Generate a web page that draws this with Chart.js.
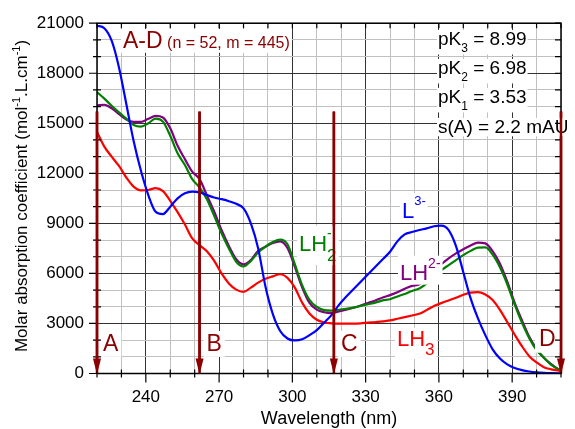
<!DOCTYPE html>
<html>
<head>
<meta charset="utf-8">
<script src="https://cdn.jsdelivr.net/npm/chart.js@4.4.1/dist/chart.umd.min.js"></script>
<style>
  html, body { margin: 0; padding: 0; background: #fff; }
  #wrap { width: 575px; height: 429px; }
</style>
</head>
<body>
<div id="wrap"><canvas id="ch" width="575" height="429"></canvas></div>
<script>
// ── Data (nm / mol-1.L.cm-1) ──────────────────────────────────────────────
const wavelengths = [
    220, 223, 226, 229, 232, 235, 238, 241, 244, 247,
    250, 253, 256, 259, 262, 265, 268, 271, 274, 277,
    280, 283, 286, 289, 292, 295, 298, 301, 304, 307,
    310, 313, 316, 319, 322, 325, 328, 331, 334, 337,
    340, 343, 346, 349, 352, 355, 358, 361, 364, 367,
    370, 373, 376, 379, 382, 385, 388, 391, 394, 397,
    400, 403, 406, 409, 410,
];
const specL = [
    20850, 20700, 19950, 18350, 16160, 13940, 12150, 10700, 9700, 9560,
    10000, 10500, 10800, 10900, 10850, 10700, 10550, 10450, 10330, 10170,
    9900, 9000, 7500, 5200, 3560, 2550, 2100, 1980, 2050, 2300,
    2600, 3050, 3500, 4100, 4600, 5050, 5500, 5950, 6400, 6850,
    7300, 7920, 8340, 8480, 8600, 8700, 8830, 8870, 8600, 7640,
    6070, 4500, 3300, 2300, 1450, 900, 550, 330, 200, 120,
    70, 40, 20, 10, 10,
];
const specLH = [
    16070, 16110, 15900, 15550, 15230, 15080, 15080, 15270, 15440, 15350,
    14700, 13650, 12850, 12100, 11650, 10680, 9700, 8600, 7650, 6850,
    6550, 6800, 7350, 7600, 7820, 7920, 7520, 6400, 5170, 4230,
    3830, 3670, 3620, 3720, 3820, 3940, 4080, 4230, 4380, 4560,
    4700, 4870, 5080, 5250, 5350, 5700, 6150, 6550, 6900, 7200,
    7450, 7680, 7850, 7800, 7330, 6580, 5500, 4250, 3200, 2200,
    1480, 950, 560, 250, 210,
];
const specLH2 = [
    16870, 16480, 16050, 15650, 15280, 14900, 14800, 15000, 15280, 15100,
    14250, 13200, 12500, 11650, 11150, 10450, 9450, 8400, 7500, 6700,
    6420, 6750, 7250, 7600, 7880, 8030, 7750, 6550, 5300, 4420,
    3990, 3800, 3770, 3820, 3880, 3950, 4050, 4150, 4250, 4380,
    4450, 4620, 4770, 4950, 5100, 5400, 5850, 6200, 6500, 6800,
    7100, 7350, 7550, 7560, 7130, 6370, 5350, 4140, 3050, 2120,
    1400, 940, 520, 260, 200,
];
const specLH3 = [
    14480, 13600, 13000, 12440, 11750, 11200, 10980, 11000, 11110, 10930,
    10350, 9670, 8930, 8100, 7700, 7330, 6750, 6000, 5400, 5030,
    4890, 5150, 5450, 5680, 5820, 5950, 5730, 5150, 4250, 3600,
    3220, 3060, 3010, 2990, 2990, 2990, 3010, 3050, 3080, 3130,
    3180, 3280, 3380, 3480, 3580, 3800, 4050, 4220, 4380, 4540,
    4720, 4850, 4880, 4740, 4410, 3820, 3080, 2340, 1640, 1040,
    660, 380, 250, 170, 150,
];

// Vertical markers A-D
const arrowWl     = [220, 262, 317, 410];
const arrowTop    = 15700;
const arrowLetter = ['A', 'B', 'C', 'D'];

// Labelled ticks
const xTicks = [240, 270, 300, 330, 360, 390];
const yTicks = [0, 3000, 6000, 9000, 12000, 15000, 18000, 21000];

const FONT     = '"Liberation Sans", Arial, sans-serif';
const DARK_RED = '#8b0000';

// ── Rich text helper (sub/superscripts, optional white box) ───────────────
function richWidth(ctx, segs) {
    let cur = 0, hold = 0;
    segs.forEach(s => {
        ctx.font = `${s.size}px ${FONT}`;
        const w = ctx.measureText(s.t).width;
        if (s.keep) hold = Math.max(hold, w);
        else { cur += Math.max(w, hold); hold = 0; }
    });
    return cur;
}

function drawRich(ctx, x, y, segs, color, pad) {
    const total = richWidth(ctx, segs);
    if (pad != null) {
        let top = y, bot = y;
        segs.forEach(s => {
            const dy = s.dy || 0;
            top = Math.min(top, y + dy - s.size * 0.74);
            bot = Math.max(bot, y + dy + s.size * 0.12);
        });
        ctx.fillStyle = '#fff';
        ctx.fillRect(x - pad, top - pad, total + 2 * pad, bot - top + 2 * pad);
    }
    ctx.fillStyle = color;
    ctx.textAlign = 'left';
    ctx.textBaseline = 'alphabetic';
    let cur = x, hold = 0;
    segs.forEach(s => {
        ctx.font = `${s.size}px ${FONT}`;
        ctx.fillText(s.t, cur, y + (s.dy || 0));
        const w = ctx.measureText(s.t).width;
        if (s.keep) hold = Math.max(hold, w);
        else { cur += Math.max(w, hold); hold = 0; }
    });
}

// ── Annotations: texts, frame, tick marks, arrows ─────────────────────────
const annotations = {
    id: 'annotations',
    afterDatasetsDraw(chart) {
        const { ctx, chartArea: a, scales: { x } } = chart;
        ctx.save();

        // A B C D (white boxes over the curves)
        const letterDx  = [6, 7, 7, -22];
        const letterY   = [351, 351, 351, 346];
        const letterPad = [3, 3, 3, 4];
        arrowWl.forEach((w, i) => {
            drawRich(ctx, x.getPixelForValue(w) + letterDx[i], letterY[i],
                [{ t: arrowLetter[i], size: 23 }], DARK_RED, letterPad[i]);
        });

        // title inside plot
        drawRich(ctx, 123, 48, [
            { t: 'A-D', size: 23 },
            { t: ' (n = 52, m = 445)', size: 16 },
        ], DARK_RED, 2);

        // fitted constants
        const pk = [
            [45,  [{ t: 'pK', size: 19 }, { t: '3', size: 12, dy: 7 }, { t: ' = 8.99', size: 19 }]],
            [74,  [{ t: 'pK', size: 19 }, { t: '2', size: 12, dy: 7 }, { t: ' = 6.98', size: 19 }]],
            [103, [{ t: 'pK', size: 19 }, { t: '1', size: 12, dy: 7 }, { t: ' = 3.53', size: 19 }]],
            [133, [{ t: 's(A) = 2.2 mAU', size: 19 }]],
        ];
        pk.forEach(([yy, segs]) => drawRich(ctx, 438, yy, segs, '#000', 1));

        // species labels
        drawRich(ctx, 402, 218, [{ t: 'L', size: 22 }, { t: '3-', size: 13, dy: -13 }], '#0000ff', 2);
        drawRich(ctx, 299, 251, [{ t: 'LH', size: 22 }, { t: '2', size: 17, dy: 10, keep: true }, { t: '-', size: 14, dy: -13 }], '#008000', 2);
        drawRich(ctx, 400, 280, [{ t: 'LH', size: 22 }, { t: '2-', size: 14, dy: -12 }], '#800080', 2);
        drawRich(ctx, 397, 346, [{ t: 'LH', size: 22 }, { t: '3', size: 17, dy: 9 }], '#ff0000', 2);

        // axis titles
        ctx.fillStyle = '#000';
        ctx.font = `18px ${FONT}`;
        ctx.textAlign = 'center';
        ctx.fillText('Wavelength (nm)', (a.left + a.right) / 2, 424);

        const ySegs = [
            { t: 'Molar absorption coefficient (mol', size: 17 },
            { t: '-1', size: 11, dy: -7 },
            { t: '.L.cm', size: 17 },
            { t: '-1', size: 11, dy: -7 },
            { t: ')', size: 17 },
        ];
        const yw = richWidth(ctx, ySegs);
        ctx.translate(27, 196);
        ctx.rotate(-Math.PI / 2);
        drawRich(ctx, -yw / 2, 0, ySegs, '#000');
        ctx.restore();
    },
    afterDraw(chart) {
        const { ctx, chartArea: a, scales: { x, y } } = chart;
        ctx.save();
        ctx.strokeStyle = '#000';
        ctx.lineWidth = 1.5;
        ctx.strokeRect(a.left, a.top, a.right - a.left, a.bottom - a.top);
        ctx.lineWidth = 1.2;
        ctx.beginPath();
        x.ticks.forEach(t => {
            const px = x.getPixelForValue(t.value);
            const major = xTicks.includes(t.value);
            if (major) { ctx.moveTo(px, a.bottom); ctx.lineTo(px, a.bottom + 9); }
            else       { ctx.moveTo(px, a.bottom - 4); ctx.lineTo(px, a.bottom + 4); }
            ctx.moveTo(px, a.top); ctx.lineTo(px, a.top + 5);
        });
        y.ticks.forEach(t => {
            const py = y.getPixelForValue(t.value);
            const major = yTicks.includes(t.value);
            if (major) { ctx.moveTo(a.left - 8, py); ctx.lineTo(a.left, py); }
            else       { ctx.moveTo(a.left - 4, py); ctx.lineTo(a.left + 4, py); }
            ctx.moveTo(a.right, py); ctx.lineTo(a.right - 6, py);
        });
        ctx.stroke();

        // arrows sit on top of the frame (A and D lie on the axes)
        const tip = y.getPixelForValue(0);
        const topPx = y.getPixelForValue(arrowTop);
        ctx.strokeStyle = DARK_RED;
        ctx.fillStyle = DARK_RED;
        ctx.lineWidth = 2.5;
        arrowWl.forEach(w => {
            const px = x.getPixelForValue(w);
            ctx.beginPath();
            ctx.moveTo(px, topPx);
            ctx.lineTo(px, tip - 10);
            ctx.stroke();
            ctx.beginPath();
            ctx.moveTo(px - 4, tip - 15);
            ctx.lineTo(px + 4, tip - 15);
            ctx.lineTo(px, tip + 1);
            ctx.closePath();
            ctx.fill();
        });
        ctx.restore();
    },
};

// ── Chart ─────────────────────────────────────────────────────────────────
const series = (vals) => wavelengths.map((w, i) => ({ x: w, y: vals[i] }));
const curve = (vals, color) => ({
    data: series(vals), borderColor: color, borderWidth: 2.2,
    cubicInterpolationMode: 'monotone', pointRadius: 0,
});

const arrows = arrowWl.map(w => ({
    data: [{ x: w, y: arrowTop }, { x: w, y: 0 }],
    borderColor: DARK_RED, borderWidth: 2.5, pointRadius: 0, tension: 0, clip: false,
}));

Chart.defaults.font.family = FONT;
Chart.defaults.color = '#000';

new Chart(document.getElementById('ch').getContext('2d'), {
    type: 'line',
    data: {
        // first dataset is painted last (on top)
        datasets: [
            ...arrows,
            curve(specL,   '#0000ff'),
            curve(specLH3, '#ff0000'),
            curve(specLH2, '#008000'),
            curve(specLH,  '#800080'),
        ],
    },
    options: {
        responsive: false, animation: false, devicePixelRatio: 1,
        layout: { padding: { top: 20, right: 3, left: 0, bottom: 0 } },
        plugins: { legend: { display: false }, tooltip: { enabled: false } },
        scales: {
            x: {
                type: 'linear', min: 220, max: 410,
                afterFit: s => { s.height = 55.5; },
                ticks: {
                    stepSize: 10, autoSkip: false, maxRotation: 0, padding: 14,
                    font: { size: 17 },
                    callback: v => xTicks.includes(v) ? String(v) : '',
                },
                grid: { drawTicks: false, color: c => xTicks.includes(c.tick.value) ? '#333' : '#c0c0c0' },
                border: { display: false },
            },
            y: {
                min: 0, max: 21000,
                afterFit: s => { s.width = 97; },
                ticks: {
                    stepSize: 1000, autoSkip: false, padding: 13,
                    font: { size: 17 },
                    callback: v => yTicks.includes(v) ? String(v) : '',
                },
                grid: { drawTicks: false, color: c => yTicks.includes(c.tick.value) ? '#333' : '#c0c0c0' },
                border: { display: false },
            },
        },
    },
    plugins: [annotations],
});
</script>
</body>
</html>
